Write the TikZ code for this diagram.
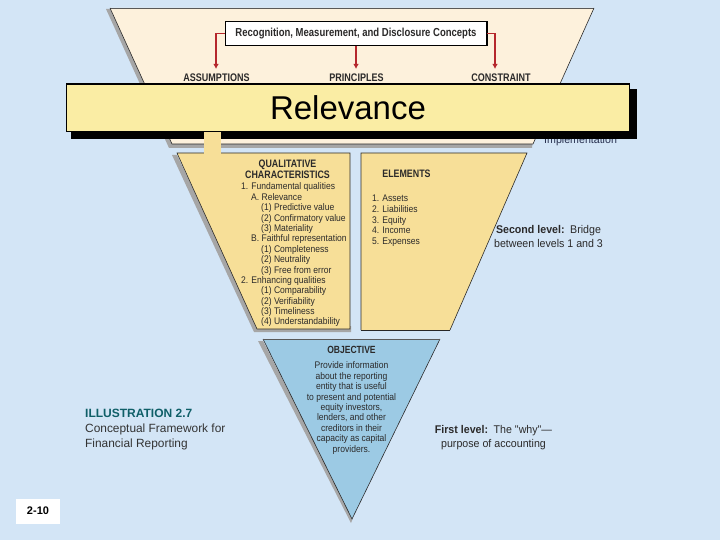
\documentclass[tikz,border=0pt]{standalone}
\usepackage{fontspec}
\setmainfont{Liberation Sans}
\newfontfamily\cond[FakeStretch=0.82]{Liberation Sans}
\newfontfamily\bodyf[FakeStretch=0.89]{Liberation Sans}
\newfontfamily\semi[FakeStretch=0.95]{Liberation Sans}
\usetikzlibrary{arrows.meta}
\definecolor{bgblue}{HTML}{D3E5F6}
\definecolor{cream}{HTML}{FDF1DC}
\definecolor{tan}{HTML}{F7DF98}
\definecolor{skyb}{HTML}{9CCAE4}
\definecolor{bandy}{HTML}{FAEDA4}
\definecolor{arrowred}{HTML}{B5272C}
\definecolor{inkd}{HTML}{2B2A2A}
\definecolor{inkb}{HTML}{27304F}
\definecolor{teal1}{HTML}{0F5F68}
\definecolor{shadowg}{HTML}{A6A6A6}
\tikzset{
  panelshadow/.style={fill=shadowg,draw=none},
  paneledge/.style={draw=inkd,line width=0.6pt},
  head/.style={font=\cond\bfseries\fontsize{11}{12}\selectfont,text=inkd,inner sep=0pt,align=center},
  body/.style={font=\bodyf\fontsize{9.6}{10.4}\selectfont,text=inkd,inner sep=0pt,anchor=north west},
  bodyc/.style={font=\bodyf\fontsize{9.6}{10.4}\selectfont,text=inkd,inner sep=0pt,align=center},
  note/.style={font=\semi\fontsize{11.2}{14}\selectfont,text=inkd,inner sep=0pt,align=center},
  rarrow/.style={draw=arrowred,line width=1.2pt,-{Latex[length=5pt,width=5.5pt]}},
  caption/.style={font=\fontsize{11.9}{15}\selectfont,inner sep=0pt,anchor=west},
}
\begin{document}
\begin{tikzpicture}[x=1pt,y=-1pt]
\useasboundingbox (0,0) rectangle (720,540);
\fill[bgblue] (0,0) rectangle (720,540);

% top panel
\fill[panelshadow] (106,9) -- (110,9) -- (175,139) -- (533,139) -- (532,148) -- (169,148) -- cycle;
\fill[cream] (110,8) -- (594,8) -- (533,144) -- (172,144) -- cycle;
\draw[gray!70!black,line width=0.4pt] (110,8) -- (594,8);
\draw[paneledge] (110,8) -- (172,144) -- (533,144) -- (594,8);

\node[draw=black,line width=1pt,fill=white,minimum width=261pt,minimum height=23.5pt,inner sep=0pt,
  font=\cond\bfseries\fontsize{11.6}{12}\selectfont,text=inkd] (rmd) at (356,33.5) {Recognition, Measurement, and Disclosure Concepts};
\draw[black,line width=1.3pt] (rmd.north east) -- (rmd.south east) -- (rmd.south west);
\node[head] (assume) at (216.5,78) {ASSUMPTIONS};
\node[head] (princ) at (356.5,78) {PRINCIPLES};
\node[head] (constr) at (501,78) {CONSTRAINT};
\coordinate (assumetip) at (216,69);
\coordinate (princtip) at (356,69);
\coordinate (constrtip) at (495,69);
\draw[rarrow] (rmd.west) -| (assumetip);
\draw[rarrow] (rmd.south) -- (princtip);
\draw[rarrow] (rmd.east) -| (constrtip);

\node[note,anchor=west,text=inkb] (impl) at (544,140.5) {Implementation};

% second level panels
\fill[panelshadow] (172,155) -- (177,155) -- (258,326) -- (351,326) -- (351,332) -- (254,332) -- cycle;
\fill[tan] (177,153) -- (350,153) -- (350,329) -- (257,329) -- cycle;
\draw[paneledge] (177,153) -- (257,329) -- (350,329) -- (350,153) -- cycle;
\fill[tan] (361,153) -- (527,153) -- (450,330) -- (361,330) -- cycle;
\draw[paneledge] (450,330) -- (527,153) -- (361,153) -- (361,330);
\draw[black!85,line width=1.3pt] (361,330.5) -- (450,330.5);

\node[head,font=\cond\bfseries\fontsize{10.8}{10.6}\selectfont] (qc) at (287.5,169) {QUALITATIVE\\CHARACTERISTICS};
\node[body] (qcone) at (241,182.8) {1. Fundamental qualities};
\node[body] (qca) at (251,193.3) {A. Relevance};
\node[body] (qca1) at (261,203.8) {(1) Predictive value};
\node[body] (qca2) at (261,214.3) {(2) Confirmatory value};
\node[body] (qca3) at (261,224.8) {(3) Materiality};
\node[body] (qcb) at (251,234.8) {B. Faithful representation};
\node[body] (qcb1) at (261,245.3) {(1) Completeness};
\node[body] (qcb2) at (261,255.8) {(2) Neutrality};
\node[body] (qcb3) at (261,266.3) {(3) Free from error};
\node[body] (qctwo) at (241,276.8) {2. Enhancing qualities};
\node[body] (qcc1) at (261,286.8) {(1) Comparability};
\node[body] (qcc2) at (261,297.3) {(2) Verifiability};
\node[body] (qcc3) at (261,307.3) {(3) Timeliness};
\node[body] (qcc4) at (261,317.8) {(4) Understandability};

\node[head,font=\cond\bfseries\fontsize{10.8}{12}\selectfont] (elem) at (406.5,174) {ELEMENTS};
\node[body] (e1) at (372,194.5) {1. Assets};
\node[body] (e2) at (372,205.2) {2. Liabilities};
\node[body] (e3) at (372,216) {3. Equity};
\node[body] (e4) at (372,226.7) {4. Income};
\node[body] (e5) at (372,237.5) {5. Expenses};

\node[note] (second) at (548.5,236) {\textbf{Second level:}\enspace Bridge\\between levels 1 and 3};

% first level
\fill[panelshadow] (258,341) -- (263,341) -- (353,518) -- (351,523) -- cycle;
\fill[skyb] (263,339) -- (440,339) -- (352,519) -- cycle;
\draw[paneledge] (263,339) -- (352,519) -- (440,339);
\draw[gray!70!black,line width=0.4pt] (263,339) -- (440,339);
\node[head,font=\cond\bfseries\fontsize{10.4}{12}\selectfont] (obj) at (351.5,349.5) {OBJECTIVE};
\node[bodyc] (objt) at (351.5,408) {Provide information\\about the reporting\\entity that is useful\\to present and potential\\equity investors,\\lenders, and other\\creditors in their\\capacity as capital\\providers.};
\node[note] (first) at (493.5,437.5) {\textbf{First level:}\enspace The "why"—\\purpose of accounting};

% band over the top
\fill[black] (71,89) rectangle (637,139);
\fill[tan] (204,130) rectangle (221,155);
\node[draw=black,line width=1.8pt,fill=bandy,minimum width=563pt,minimum height=47.5pt,inner sep=0pt,
  font=\fontsize{33}{36}\selectfont,text=black] (band) at (348,107.8) {Relevance};

% caption
\node[caption,text=teal1,font=\bfseries\fontsize{12}{14}\selectfont] (ill) at (85,413) {ILLUSTRATION 2.7};
\node[caption,text=black!80,align=left] (cap) at (85,437) {Conceptual Framework for\\Financial Reporting};
\node[fill=white,minimum width=44pt,minimum height=25pt,inner sep=0pt,font=\bfseries\fontsize{11}{12}\selectfont] (page) at (38,511) {2-10};
\end{tikzpicture}
\end{document}
